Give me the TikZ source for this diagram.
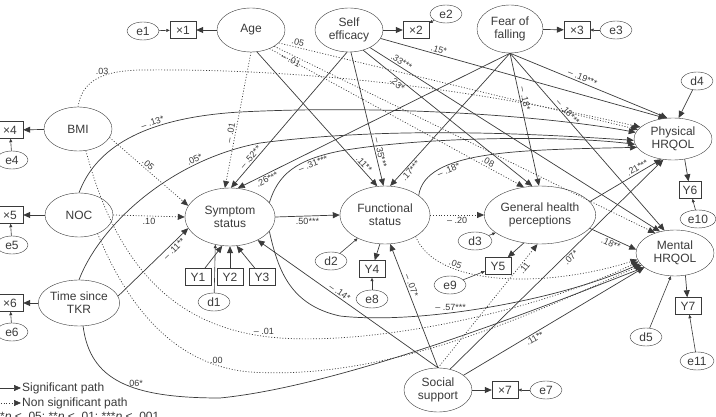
\documentclass[tikz,border=0pt]{standalone}
\usepackage{fontspec}
\setmainfont{Liberation Sans}
\usetikzlibrary{shapes.geometric,arrows.meta}
\definecolor{ink}{HTML}{3A3A3A}
\begin{document}
\begin{tikzpicture}[x=1pt,y=-1pt,
    lat/.style={ellipse,draw=ink,text=ink,align=center,inner sep=0pt,
      minimum width=68pt,minimum height=44pt,font=\fontsize{12}{13}\selectfont},
    big/.style={minimum width=90pt,minimum height=58pt},
    err/.style={ellipse,draw=ink,text=ink,inner sep=0pt,minimum width=32pt,
      minimum height=18pt,font=\fontsize{12}{13}\selectfont},
    obs/.style={rectangle,draw=ink,text=ink,inner sep=0pt,minimum width=26pt,
      minimum height=17pt,font=\fontsize{12}{13}\selectfont},
    sig/.style={draw=ink,line width=0.7pt,-{Triangle[length=7pt,width=6pt]}},
    nsig/.style={sig,dash pattern=on 1pt off 1.8pt},
    tiny/.style={draw=ink,line width=0.6pt,-{Triangle[length=3.5pt,width=3pt]}},
    coef/.style={font=\fontsize{9}{10}\selectfont,text=ink,inner sep=1.5pt}]
  \useasboundingbox (0,0) rectangle (716,417);
  % latent variables
  \node[lat] (age) at (251,30) {Age};
  \node[lat] (selfeff) at (349,30) {Self\\efficacy};
  \node[lat,minimum width=66pt,minimum height=48pt] (fear) at (510,29) {Fear of\\falling};
  \node[lat] (bmi) at (78,129) {BMI};
  \node[lat] (noc) at (79,215) {NOC};
  \node[lat,minimum height=46pt] (tkr) at (79,303) {Time since\\TKR};
  \node[lat] (social) at (438,390) {Social\\support};
  \node[lat,big] (symp) at (230,217) {Symptom\\status};
  \node[lat,big] (func) at (385,215) {Functional\\status};
  \node[lat,big,minimum width=92pt] (genh) at (540,215) {General health\\perceptions};
  \node[lat,minimum width=78pt,minimum height=42pt] (phys) at (673,139) {Physical\\HRQOL};
  \node[lat,minimum width=78pt,minimum height=46pt] (ment) at (675,253) {Mental\\HRQOL};
  % indicators
  \node[obs] (x1) at (183,30) {×1};
  \node[obs] (x2) at (416,30) {×2};
  \node[obs] (x3) at (577,30) {×3};
  \node[obs] (x4) at (10,130) {×4};
  \node[obs] (x5) at (10,215) {×5};
  \node[obs] (x6) at (10,303) {×6};
  \node[obs] (x7) at (505,390) {×7};
  \node[obs] (y1) at (198,277) {Y1};
  \node[obs] (y2) at (230,277) {Y2};
  \node[obs] (y3) at (262,277) {Y3};
  \node[obs] (y4) at (372,269) {Y4};
  \node[obs] (y5) at (498,266) {Y5};
  \node[obs,minimum width=22pt] (y6) at (690,190) {Y6};
  \node[obs] (y7) at (688,306) {Y7};
  % error terms
  \node[err] (e1) at (143,31) {e1};
  \node[err] (e2) at (446,14) {e2};
  \node[err] (e3) at (616,30) {e3};
  \node[err] (e4) at (12,160) {e4};
  \node[err] (e5) at (12,245) {e5};
  \node[err] (e6) at (12,332) {e6};
  \node[err] (e7) at (546,390) {e7};
  \node[err] (e8) at (372,299) {e8};
  \node[err] (e9) at (450,285) {e9};
  \node[err,minimum width=36pt] (e10) at (698,219) {e10};
  \node[err,minimum width=34pt] (e11) at (697,361) {e11};
  \node[err] (d1) at (214,302) {d1};
  \node[err] (d2) at (331,261) {d2};
  \node[err,minimum width=34pt] (d3) at (475,241) {d3};
  \node[err] (d4) at (697,81) {d4};
  \node[err] (d5) at (646,337) {d5};
  % measurement paths
  \draw[sig] (age) -- (x1);
  \draw[tiny] (e1) -- (x1);
  \draw[sig] (selfeff) -- (x2);
  \draw[tiny] (e2) -- (x2);
  \draw[sig] (fear) -- (x3);
  \draw[tiny] (e3) -- (x3);
  \draw[sig] (bmi) -- (x4);
  \draw[tiny] (e4) -- (x4);
  \draw[sig] (noc) -- (x5);
  \draw[tiny] (e5) -- (x5);
  \draw[sig] (tkr) -- (x6);
  \draw[tiny] (e6) -- (x6);
  \draw[sig] (social) -- (x7);
  \draw[tiny] (e7) -- (x7);
  \draw[sig] (y1) -- (symp.255);
  \draw[sig] (y2) -- (symp.270);
  \draw[sig] (y3) -- (symp.283);
  \draw[tiny] (d1) -- (symp.242);
  \draw[sig] (func.-100) -- (y4);
  \draw[tiny] (e8) -- (y4);
  \draw[tiny] (d2) -- (func);
  \draw[sig] (genh.-120) -- (y5);
  \draw[tiny] (e9) -- (y5);
  \draw[tiny] (d3) -- (genh);
  \draw[sig] (phys.-60) -- (y6);
  \draw[tiny] (e10) -- (y6);
  \draw[sig] (d4) -- (phys.75);
  \draw[sig] (ment.-65) -- (y7);
  \draw[tiny] (e11) -- (y7);
  \draw[tiny] (d5) -- (ment.-100);
  % structural paths: age, self efficacy, fear of falling
  \draw[nsig] (age.-90) -- (symp.100) node[coef,sloped,above,pos=0.6] {-- .01};
  \draw[sig] (age.-75) -- (func.105) node[coef,sloped,above,pos=0.86] {.11**};
  \draw[nsig] (age.-25) -- (phys.165) node[coef,sloped,above,pos=0.05] {.05};
  \draw[nsig] (age.-35) -- (ment.135) node[coef,sloped,below,pos=0.05] {-- .01};
  \draw[nsig] (age.-45) -- (genh.120) node[coef,sloped,above,pos=0.85] {.08};
  \draw[sig] (selfeff.-95) -- (symp.88) node[coef,sloped,above,pos=0.8] {-- .52**};
  \draw[sig] (selfeff.-85) -- (func.93) node[coef,sloped,above,pos=0.76] {-- .35***};
  \draw[sig] (selfeff.-15) -- (phys.110) node[coef,sloped,above,pos=0.2] {.15*};
  \draw[sig] (selfeff.-40) -- (ment.125) node[coef,sloped,above,pos=0.1] {.33***};
  \draw[sig] (selfeff.-55) -- (genh.105) node[coef,sloped,below,pos=0.22] {.23*};
  \draw[sig] (fear.south) -- (symp.75) node[coef,sloped,below,pos=0.9] {.26***};
  \draw[sig] (fear.south) -- (func.80) node[coef,sloped,below,pos=0.86] {.17***};
  \draw[sig] (fear.south) -- (genh.92) node[coef,sloped,above,pos=0.35] {-- .18*};
  \draw[sig] (fear.south) -- (phys.105) node[coef,sloped,above,pos=0.45] {-- .19***};
  \draw[sig] (fear.south) -- (ment.115) node[coef,sloped,above,pos=0.35] {-- .18***};
  % structural paths: bmi, noc, time since tkr
  \draw[nsig] (bmi.-15) -- (symp.165) node[coef,sloped,above,pos=0.45] {.05};
  \draw[nsig] (noc.east) -- (symp.west) node[coef,below,midway] {.10};
  \draw[sig] (tkr.10) -- (symp.195) node[coef,sloped,below,pos=0.75] {-- .11**};
  \draw[nsig] (bmi.north) .. controls (82,82) and (100,71) .. (140,70)
    node[coef,above,pos=0.6] {.03}
    .. controls (330,68) and (500,95) .. (phys.160);
  \draw[sig] (noc.north) .. controls (95,150) and (140,118) .. (240,112)
    node[coef,sloped,above,pos=0.65] {-- .13*}
    .. controls (400,104) and (560,118) .. (phys.170);
  \draw[sig] (tkr.north) .. controls (100,225) and (170,160) .. (260,143)
    node[coef,sloped,above,pos=0.75] {.05*}
    .. controls (400,125) and (550,135) .. (phys.182);
  \draw[nsig] (bmi.-70) .. controls (115,260) and (170,330) .. (280,338)
    node[coef,above,pos=0.95] {-- .01}
    .. controls (380,345) and (540,310) .. (ment.193);
  \draw[nsig] (noc.-45) .. controls (125,300) and (170,365) .. (250,372)
    node[coef,above,pos=0.85] {.00}
    .. controls (400,382) and (560,300) .. (ment.200);
  \draw[sig] (tkr.-80) .. controls (90,380) and (130,398) .. (220,398)
    node[coef,above,pos=0.6] {.06*}
    .. controls (350,385) and (560,300) .. (ment.205);
  % structural paths: social support
  \draw[sig] (social.north) -- (symp.-40) node[coef,sloped,above,pos=0.56] {-- .14*};
  \draw[sig] (social.north) -- (func.-80) node[coef,sloped,above,pos=0.65] {-- .07*};
  \draw[nsig] (social.north) -- (genh.-95) node[coef,sloped,below,pos=0.83] {.11};
  \draw[sig] (social.60) -- (phys.-115) node[coef,sloped,below,pos=0.55] {.07*};
  \draw[sig] (social.30) -- (ment.205) node[coef,sloped,below,pos=0.38] {.11**};
  % structural paths among outcomes
  \draw[sig] (symp.east) -- (func.west) node[coef,below,midway] {.50***};
  \draw[nsig] (func.east) -- (genh.west) node[coef,below,midway] {-- .20};
  \draw[sig] (symp.20) .. controls (278,175) and (295,160) .. (340,151)
    node[coef,sloped,below,pos=0.75] {-- .31***}
    .. controls (420,137) and (560,135) .. (phys.188);
  \draw[sig] (symp.-20) .. controls (278,270) and (290,305) .. (340,316)
    .. controls (420,325) and (560,300) .. (ment.197)
    node[coef,above,pos=0.38] {-- .57***};
  \draw[sig] (func.30) .. controls (425,150) and (520,150) .. (phys.193)
    node[coef,sloped,below,pos=0.3] {-- .18*};
  \draw[nsig] (func.-35) .. controls (435,285) and (540,290) .. (ment.190)
    node[coef,sloped,above,pos=0.3] {.05};
  \draw[sig] (genh.15) -- (phys.-120) node[coef,sloped,above,pos=0.7] {.21***};
  \draw[sig] (genh.-15) -- (ment.175) node[coef,sloped,below,pos=0.5] {.18**};
  % legend
  \coordinate (sigA) at (-2,388);
  \coordinate (sigB) at (21,388);
  \coordinate (nsigA) at (-2,403);
  \coordinate (nsigB) at (21,403);
  \draw[sig] (sigA) -- (sigB);
  \draw[nsig] (nsigA) -- (nsigB);
  \node[anchor=west,text=ink,font=\fontsize{12}{13}\selectfont,inner sep=1pt] (sigtext) at (sigB) {Significant path};
  \node[anchor=west,text=ink,font=\fontsize{12}{13}\selectfont,inner sep=1pt] (nsigtext) at (nsigB) {Non significant path};
  \node[anchor=north west,text=ink,font=\fontsize{12}{13}\selectfont,inner sep=0pt] (pnote) at (0,412) {*\textit{p} < .05; **\textit{p} < .01; ***\textit{p} < .001};
\end{tikzpicture}
\end{document}
